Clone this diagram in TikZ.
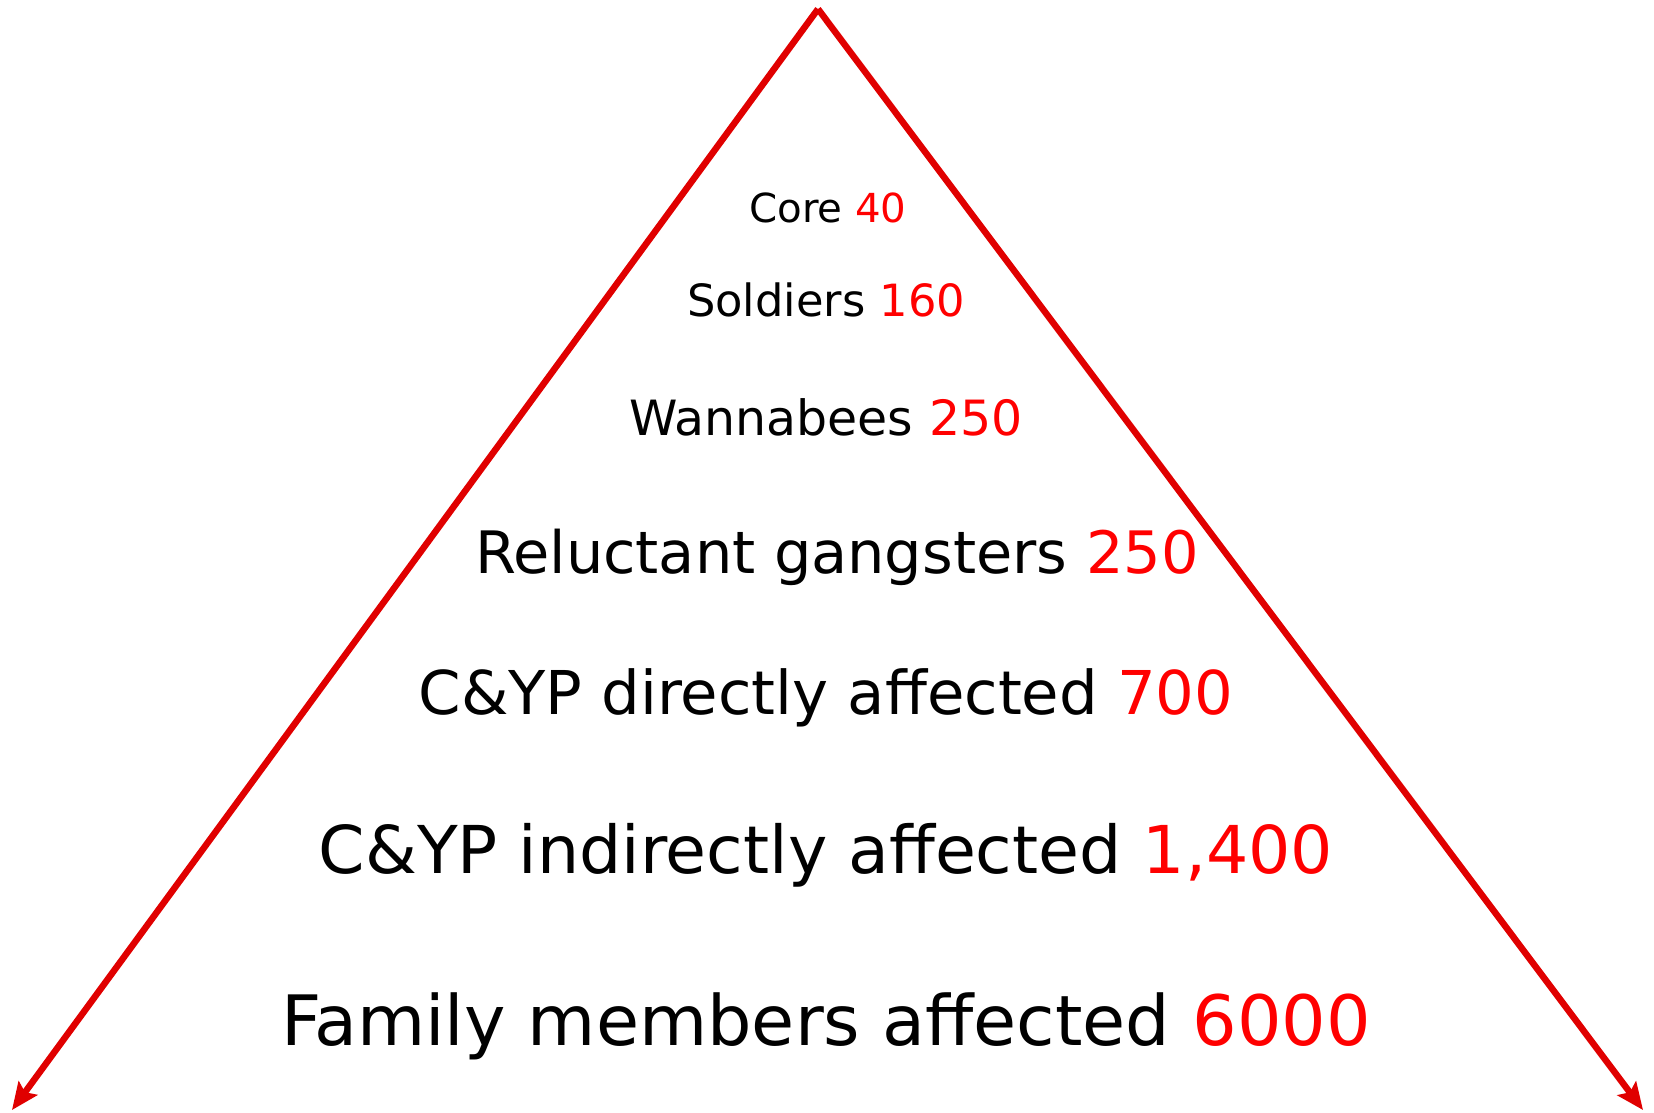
\documentclass[tikz,border=0pt]{standalone}
\usepackage{fontspec}
\setmainfont{DejaVu Sans Condensed}[FakeStretch=1.12]
\usetikzlibrary{arrows.meta}
\definecolor{linered}{RGB}{224,0,0}
\definecolor{numred}{RGB}{255,0,0}
\newcommand{\numr}[1]{\textcolor{numred}{#1}}
\begin{document}
\begin{tikzpicture}[x=1pt,y=-1pt,
  arm/.style={draw=linered,line width=6.5pt,-{Stealth[length=27pt,width=23pt,inset=5pt]}},
  lbl/.style={anchor=base,inner sep=0pt,text=black}]
\useasboundingbox (0,0) rectangle (1654,1112);
\coordinate (apex) at (818,9);
\coordinate (tipL) at (12,1110);
\coordinate (tipR) at (1643,1110);
\draw[arm] (apex) -- (tipL);
\draw[arm] (apex) -- (tipR);
\node[lbl,font=\fontsize{40}{48}\selectfont] (core) at (828,222) {Core \numr{40}};
\node[lbl,font=\fontsize{44.4}{52}\selectfont] (sold) at (826,316) {Soldiers \numr{160}};
\node[lbl,font=\fontsize{48.6}{56}\selectfont] (wann) at (826,435) {Wannabees \numr{250}};
\node[lbl,font=\fontsize{58.5}{68}\selectfont] (relu) at (837,573) {Reluctant gangsters \numr{250}};
\node[lbl,font=\fontsize{60.4}{68}\selectfont] (dire) at (826,714) {C\&YP directly affected \numr{700}};
\node[lbl,font=\fontsize{66}{76}\selectfont] (indi) at (826,873) {C\&YP indirectly affected \numr{1,400}};
\node[lbl,font=\fontsize{69.5}{84}\selectfont] (fami) at (826,1045) {Family members affected \numr{6000}};
\end{tikzpicture}
\end{document}
